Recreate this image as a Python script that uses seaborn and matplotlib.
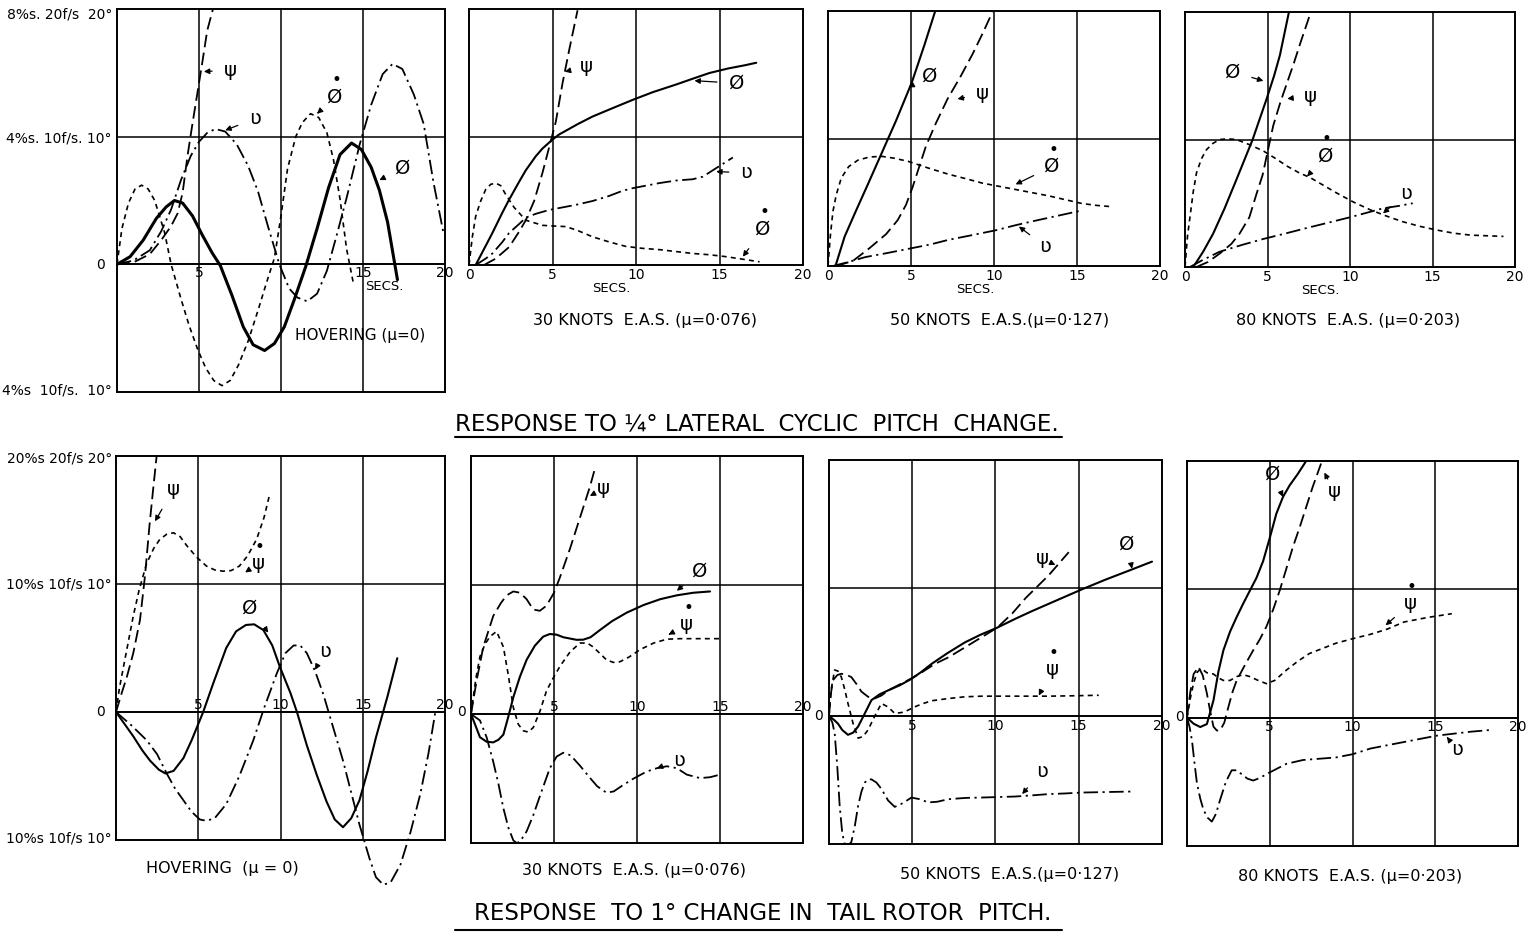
import seaborn as sns
import matplotlib.pyplot as plt
from matplotlib.lines import Line2D

sns.set_style('white')
plt.rcParams['font.family'] = ['DejaVu Sans']
plt.rcParams['text.color'] = 'black'

W, H = 1528, 936

# ---------------- lateral cyclic pitch: hovering ----------------
a1_phi_t = [0, 0.8, 1.6, 2.4, 3.0, 3.5, 4.0, 4.6, 5.2, 5.8, 6.3, 7.0, 7.7, 8.3, 9.0, 9.6, 10.2, 10.8, 11.5,
            12.2, 12.9, 13.6, 14.3, 14.9, 15.5, 16.0, 16.5, 17.1]
a1_phi_y = [0, 0.6, 1.9, 3.6, 4.5, 5.0, 4.8, 3.8, 2.3, 0.9, -0.1, -2.4, -4.9, -6.3, -6.75, -6.2, -4.9, -2.8,
            -0.2, 2.8, 6.0, 8.6, 9.5, 9.0, 7.6, 5.8, 3.3, -1.2]
a1_psi_t = [0, 1.0, 2.0, 2.7, 3.3, 3.7, 4.0, 4.3, 4.6, 4.9, 5.2, 5.5, 5.85]
a1_psi_y = [0, 0.15, 0.8, 1.9, 3.0, 4.0, 5.6, 8.5, 11.0, 13.4, 15.8, 18.3, 20.0]
a1_dot_t = [0, 0.3, 0.7, 1.1, 1.5, 1.9, 2.3, 2.9, 3.3, 3.9, 4.4, 4.9, 5.4, 5.9, 6.4, 6.9, 7.4, 8.0, 8.6, 9.1,
            9.6, 10.0, 10.4, 10.9, 11.3, 11.8, 12.3, 12.8, 13.2, 13.6, 14.0, 14.4]
a1_dot_y = [0, 2.8, 4.8, 5.9, 6.2, 5.9, 5.0, 2.5, 0, -2.7, -4.8, -6.6, -8.1, -9.1, -9.5, -9.1, -7.9, -6.0,
            -3.6, -1.5, 0.5, 3.8, 7.5, 10.0, 11.1, 11.8, 11.5, 10.3, 8.2, 5.1, 1.2, -1.4]
a1_v_t = [0, 1, 2, 2.7, 3.3, 3.9, 4.5, 5.0, 5.5, 6.0, 6.6, 7.3, 8.0, 8.6, 9.2, 9.9, 10.5, 11.0, 11.6, 12.2,
          12.8, 13.4, 14.0, 14.8, 15.5, 16.2, 16.8, 17.4, 18.1, 18.7, 19.3, 19.9]
a1_v_y = [0, 0.3, 1.1, 2.6, 4.3, 6.6, 8.5, 9.6, 10.3, 10.6, 10.4, 9.4, 7.7, 5.7, 3.0, 0, -1.9, -2.6, -2.9,
          -2.3, -0.5, 2.3, 5.2, 9.4, 12.5, 14.9, 15.7, 15.3, 13.3, 11.0, 6.4, 2.5]

# ---------------- lateral cyclic pitch: 30 knots ----------------
a2_phi_t = [0.4, 1.0, 1.4, 2.0, 2.4, 3.0, 3.4, 4.0, 4.4, 5.0, 5.4, 6.5, 7.4, 8.5, 9.8, 11.0, 12.4, 13.5,
            14.4, 15.5, 16.5, 17.2]
a2_phi_y = [0, 1.5, 2.5, 4.1, 5.1, 6.5, 7.4, 8.5, 9.1, 9.8, 10.2, 11.0, 11.6, 12.2, 12.9, 13.5, 14.1, 14.6,
            15.0, 15.35, 15.6, 15.8]
a2_psi_t = [0.9, 1.6, 2.4, 3.0, 3.4, 3.9, 4.4, 4.8, 5.2, 5.6, 6.0, 6.5]
a2_psi_y = [0, 0.5, 1.4, 2.6, 3.5, 5.0, 7.2, 9.2, 11.2, 14.2, 16.8, 19.9]
a2_dot_t = [0, 0.2, 0.4, 0.7, 1.0, 1.3, 1.6, 1.9, 2.2, 2.7, 3.4, 4.4, 5.0, 5.8, 6.5, 7.4, 8.4, 9.4, 10.4,
            11.4, 12.4, 13.4, 14.4, 15.4, 16.4, 17.4]
a2_dot_y = [0, 2.2, 3.8, 5.0, 5.9, 6.3, 6.4, 6.2, 5.5, 4.5, 3.5, 3.1, 3.05, 3.0, 2.7, 2.2, 1.8, 1.45, 1.3,
            1.2, 1.05, 0.9, 0.8, 0.65, 0.45, 0.25]
a2_v_t = [0.4, 1.0, 1.4, 2.0, 2.4, 3.0, 3.4, 4.0, 4.8, 5.6, 6.4, 7.4, 8.4, 9.2, 9.8, 10.6, 11.4, 12.4, 13.4,
          14.0, 14.6, 15.2, 15.8]
a2_v_y = [0, 0.5, 0.9, 1.8, 2.5, 3.2, 3.7, 4.0, 4.3, 4.5, 4.7, 5.0, 5.4, 5.8, 6.0, 6.2, 6.4, 6.6, 6.7, 6.9,
          7.4, 7.9, 8.4]

# ---------------- lateral cyclic pitch: 50 knots ----------------
a3_phi_t = [0.45, 1.0, 1.64, 2.4, 3.25, 4.1, 5.05, 5.8, 6.46]
a3_phi_y = [0, 2.3, 4.2, 6.4, 8.9, 11.4, 14.4, 17.3, 20.0]
a3_psi_t = [0.5, 1.5, 2.5, 3.5, 4.2, 4.7, 5.1, 5.5, 5.9, 6.5, 7.2, 8.0, 8.7, 9.3, 9.9]
a3_psi_y = [0, 0.4, 1.4, 2.5, 3.6, 4.8, 6.2, 7.8, 9.4, 11.2, 13.1, 14.9, 16.6, 18.2, 19.9]
a3_dot_t = [0, 0.15, 0.3, 0.5, 0.8, 1.25, 1.8, 2.5, 3.25, 4.0, 4.85, 6.0, 7.25, 8.3, 9.3, 10.3, 11.3, 12.3,
            13.3, 14.3, 15.3, 16.2, 17.1]
a3_dot_y = [0, 2.5, 4.3, 5.6, 6.9, 7.8, 8.3, 8.55, 8.6, 8.45, 8.2, 7.7, 7.2, 6.85, 6.5, 6.25, 6.0, 5.75,
            5.5, 5.2, 4.9, 4.75, 4.65]
a3_v_t = [0.3, 1.2, 2.25, 3.5, 5.05, 6.2, 7.25, 8.6, 10.1, 11.3, 12.3, 13.7, 15.1]
a3_v_y = [0, 0.3, 0.7, 1.0, 1.4, 1.7, 2.05, 2.4, 2.8, 3.2, 3.5, 3.9, 4.3]

# ---------------- lateral cyclic pitch: 80 knots ----------------
a4_phi_t = [0.5, 1.1, 1.7, 2.4, 3.1, 3.6, 4.1, 4.95, 5.4, 5.75, 6.3]
a4_phi_y = [0, 1.2, 2.6, 4.6, 6.8, 8.4, 10.0, 13.2, 15.0, 16.6, 20.0]
a4_psi_t = [0.7, 1.4, 2.1, 2.8, 3.3, 3.9, 4.35, 4.7, 4.95, 5.35, 5.8, 6.2, 6.6, 7.0, 7.6]
a4_psi_y = [0, 0.4, 1.05, 1.8, 2.6, 3.9, 5.8, 7.2, 8.7, 11.1, 13.0, 14.5, 16.0, 17.6, 19.9]
a4_dot_t = [0, 0.15, 0.3, 0.5, 0.7, 1.0, 1.3, 1.7, 2.1, 2.6, 3.1, 3.9, 4.75, 5.5, 6.2, 6.9, 7.6, 8.4, 9.2,
            10.2, 11.2, 12.2, 13.2, 14.2, 15.25, 16.3, 17.3, 18.3, 19.3]
a4_dot_y = [0, 2.4, 3.9, 5.9, 7.4, 8.5, 9.2, 9.7, 10.0, 10.05, 10.0, 9.6, 9.1, 8.5, 7.9, 7.4, 7.0, 6.4, 5.8,
            5.1, 4.5, 4.0, 3.55, 3.2, 2.9, 2.65, 2.5, 2.45, 2.4]
a4_v_t = [0.3, 1.0, 2.1, 3.5, 4.75, 6.0, 7.2, 8.6, 10.0, 11.0, 12.0, 13.0, 13.8]
a4_v_y = [0, 0.5, 1.2, 1.75, 2.2, 2.6, 3.0, 3.45, 3.9, 4.25, 4.6, 4.8, 5.0]

# ---------------- tail rotor pitch: hovering ----------------
b1_phi_t = [0, 0.5, 1.05, 1.6, 2.07, 2.6, 3.0, 3.5, 4.1, 4.6, 5.3, 5.9, 6.3, 6.7, 7.3, 7.9, 8.4, 8.96, 9.5,
            9.97, 10.6, 11.0, 11.6, 12.2, 12.8, 13.3, 13.8, 14.3, 14.8, 15.3, 15.8, 16.5, 17.1]
b1_phi_y = [0, -0.9, -1.9, -3.0, -3.8, -4.5, -4.8, -4.6, -3.6, -2.2, 0, 2.2, 3.6, 5.0, 6.3, 6.8, 6.85, 6.4,
            5.2, 3.5, 1.5, 0, -2.6, -4.9, -7.0, -8.4, -9.0, -8.3, -6.9, -4.6, -2.0, 1.2, 4.2]
b1_psi_t = [0, 0.35, 0.65, 1.05, 1.46, 1.76, 2.03, 2.25, 2.47]
b1_psi_y = [0, 1.5, 2.7, 4.6, 7.2, 10.6, 14.5, 17.3, 20.0]
b1_dot_t = [0, 0.2, 0.45, 0.75, 1.05, 1.4, 1.86, 2.3, 2.67, 3.1, 3.5, 3.9, 4.3, 4.9, 5.5, 6.0, 6.5, 7.0,
            7.5, 8.0, 8.55, 9.0, 9.36]
b1_dot_y = [0, 1.8, 3.5, 5.5, 7.5, 9.5, 11.6, 12.8, 13.5, 13.9, 14.0, 13.7, 13.0, 12.1, 11.4, 11.1, 11.0,
            11.05, 11.4, 12.2, 13.5, 15.2, 17.1]
b1_v_t = [0, 0.9, 1.86, 2.5, 3.08, 3.6, 4.1, 4.6, 5.1, 5.5, 6.0, 6.7, 7.5, 8.35, 9.0, 9.77, 10.3, 10.8,
          11.2, 11.6, 12.1, 12.6, 13.2, 13.8, 14.3, 14.8, 15.4, 15.8, 16.25, 16.7, 17.3, 17.9, 18.5, 19.0, 19.4]
b1_v_y = [0, -1.0, -2.2, -3.3, -4.8, -6.0, -6.9, -7.8, -8.4, -8.5, -8.3, -7.2, -5.0, -2.2, 0.3, 3.0, 4.6,
          5.2, 5.2, 4.6, 3.2, 1.4, -1.2, -3.8, -6.3, -8.8, -11.4, -12.9, -13.5, -13.3, -11.9, -9.4, -6.4,
          -3.2, -0.1]

# ---------------- tail rotor pitch: 30 knots ----------------
b2_phi_t = [0, 0.3, 0.54, 0.94, 1.34, 1.65, 1.95, 2.25, 2.55, 2.95, 3.35, 3.85, 4.35, 4.75, 5.16, 5.56,
            5.96, 6.36, 6.76, 7.2, 7.76, 8.5, 9.37, 10.4, 11.4, 12.4, 13.4, 14.4]
b2_phi_y = [0, -1.0, -1.8, -2.15, -2.2, -2.0, -1.6, -0.2, 1.3, 2.9, 4.2, 5.3, 6.0, 6.2, 6.15, 5.95, 5.85,
            5.75, 5.76, 5.95, 6.5, 7.2, 7.85, 8.45, 8.9, 9.2, 9.4, 9.5]
b2_psi_t = [0, 0.34, 0.74, 1.34, 1.8, 2.15, 2.55, 2.95, 3.35, 3.75, 4.15, 4.55, 5.0, 5.36, 5.96, 6.56,
            7.16, 7.46]
b2_psi_y = [0, 2.6, 5.2, 7.6, 8.6, 9.2, 9.5, 9.4, 8.9, 8.1, 8.0, 8.4, 9.4, 10.6, 12.8, 15.2, 17.6, 19.0]
b2_dot_t = [0, 0.3, 0.54, 0.84, 1.14, 1.54, 1.95, 2.25, 2.55, 2.85, 3.15, 3.45, 3.75, 4.15, 4.55, 5.0,
            5.36, 5.96, 6.56, 7.0, 7.36, 7.76, 8.16, 8.57, 8.97, 9.5, 10.2, 11.0, 11.8, 12.6, 13.4, 14.2, 15.0]
b2_dot_y = [0, 2.8, 4.45, 5.4, 6.0, 6.4, 5.2, 3.0, 0.5, -0.8, -1.3, -1.4, -1.05, 0.2, 1.8, 2.9, 3.7, 4.8,
            5.5, 5.5, 5.2, 4.7, 4.2, 4.0, 4.05, 4.4, 5.0, 5.5, 5.8, 5.84, 5.84, 5.84, 5.84]
b2_v_t = [0, 0.54, 0.94, 1.34, 1.65, 1.95, 2.25, 2.55, 2.75, 2.95, 3.35, 3.75, 4.25, 4.75, 5.16, 5.56,
          6.0, 6.56, 7.2, 7.6, 8.16, 8.6, 9.17, 9.8, 10.6, 11.2, 11.8, 12.4, 13.0, 13.8, 14.4, 15.0]
b2_v_y = [0, -0.5, -1.8, -3.7, -5.4, -7.3, -8.8, -9.8, -10.0, -9.9, -9.1, -7.85, -6.0, -4.2, -3.3, -3.0,
          -3.2, -4.0, -5.0, -5.6, -6.1, -6.0, -5.5, -5.0, -4.45, -4.2, -4.05, -4.2, -4.7, -4.97, -4.9, -4.7]

# ---------------- tail rotor pitch: 50 knots ----------------
b3_phi_t = [0, 0.3, 0.54, 0.8, 1.14, 1.45, 1.75, 2.15, 2.55, 3.05, 3.55, 4.25, 4.95, 5.5, 6.16, 7.1, 8.16,
            9.1, 10.1, 11.2, 12.2, 13.7, 15.2, 16.6, 18.0, 19.4]
b3_phi_y = [0, -0.3, -0.6, -1.1, -1.47, -1.3, -0.82, 0.2, 1.24, 1.7, 2.0, 2.4, 2.9, 3.4, 4.07, 4.9, 5.75,
            6.35, 6.9, 7.6, 8.2, 9.05, 9.9, 10.65, 11.35, 12.06]
b3_psi_t = [0, 0.12, 0.24, 0.5, 0.74, 1.0, 1.34, 1.65, 1.95, 2.35, 2.75, 3.15, 3.55, 4.15, 4.75, 5.5, 6.36,
            7.2, 8.16, 9.1, 10.1, 11.0, 11.8, 12.5, 13.2, 13.8, 14.4]
b3_psi_y = [0, 1.8, 2.8, 3.2, 3.3, 3.25, 3.04, 2.5, 1.9, 1.5, 1.37, 1.6, 2.0, 2.4, 2.8, 3.35, 4.07, 4.6,
            5.36, 6.1, 6.9, 8.0, 9.2, 10.1, 11.0, 11.9, 12.8]
b3_dot_t = [0, 0.12, 0.34, 0.55, 0.74, 0.94, 1.14, 1.45, 1.75, 2.05, 2.35, 2.75, 3.15, 3.55, 3.95, 4.5,
            5.16, 5.6, 6.16, 7.2, 8.16, 9.2, 10.2, 11.7, 13.2, 14.7, 16.2]
b3_dot_y = [0, 2.0, 3.6, 3.5, 3.04, 2.1, 0.98, -0.6, -1.73, -1.6, -1.08, 0.0, 0.98, 0.7, 0.2, 0.3, 0.72,
            0.95, 1.19, 1.37, 1.5, 1.55, 1.55, 1.55, 1.55, 1.58, 1.62]
b3_v_t = [0, 0.2, 0.34, 0.5, 0.64, 0.8, 0.94, 1.14, 1.34, 1.55, 1.75, 1.95, 2.15, 2.35, 2.55, 2.85, 3.15,
          3.55, 3.95, 4.45, 4.95, 5.45, 5.96, 6.5, 7.16, 8.2, 9.17, 10.2, 11.2, 12.2, 13.2, 14.2, 15.2,
          16.7, 18.2]
b3_v_y = [0, -0.5, -1.34, -4.0, -7.0, -9.2, -9.97, -10.1, -9.85, -8.6, -7.0, -5.9, -5.2, -4.95, -4.95,
          -5.2, -5.7, -6.6, -7.1, -6.8, -6.37, -6.5, -6.75, -6.7, -6.5, -6.4, -6.37, -6.33, -6.29, -6.2,
          -6.1, -6.05, -5.98, -5.94, -5.9]

# ---------------- tail rotor pitch: 80 knots ----------------
b4_phi_t = [0, 0.4, 0.8, 1.2, 1.6, 1.9, 2.2, 2.6, 3.0, 3.4, 3.8, 4.2, 4.6, 5.0, 5.4, 5.8, 6.2, 6.7, 7.2]
b4_phi_y = [0, -0.47, -0.73, -0.5, 1.35, 3.6, 5.25, 6.7, 7.84, 8.9, 9.9, 10.9, 12.2, 14.0, 15.9, 17.2,
            18.1, 19.0, 20.0]
b4_psi_t = [0, 0.2, 0.4, 0.7, 0.95, 1.2, 1.4, 1.6, 1.8, 2.0, 2.25, 2.5, 2.75, 3.0, 3.5, 4.0, 4.4, 4.8, 5.2,
            5.6, 6.0, 6.4, 6.8, 7.2, 7.6, 8.1]
b4_psi_y = [0, 2.0, 3.4, 3.95, 3.3, 1.9, 0.5, -0.7, -1.0, -1.0, -0.4, 0.83, 2.0, 2.9, 4.1, 5.25, 6.1, 7.1,
            8.4, 9.9, 11.6, 13.3, 14.8, 16.4, 18.0, 19.8]
b4_dot_t = [0, 0.2, 0.4, 0.6, 0.8, 1.0, 1.2, 1.6, 1.9, 2.2, 2.6, 3.0, 3.4, 3.8, 4.3, 4.8, 5.3, 6.0, 6.7,
            7.4, 8.2, 9.0, 10.0, 11.1, 12.1, 13.1, 14.5, 16.0]
b4_dot_y = [0, 1.5, 2.7, 3.5, 3.8, 3.7, 3.5, 3.4, 3.1, 2.9, 2.9, 3.2, 3.35, 3.2, 2.9, 2.65, 2.9, 3.7, 4.4,
            5.0, 5.4, 5.8, 6.15, 6.5, 6.9, 7.45, 7.8, 8.1]
b4_v_t = [0, 0.15, 0.3, 0.45, 0.6, 0.8, 1.0, 1.25, 1.5, 1.75, 2.0, 2.35, 2.7, 3.0, 3.3, 3.65, 4.0, 4.4,
          4.8, 5.4, 6.0, 7.0, 8.0, 9.0, 10.0, 11.1, 12.1, 13.1, 14.1, 15.1, 16.1, 17.1, 18.5]
b4_v_y = [0, -0.7, -1.77, -3.5, -5.1, -6.3, -7.2, -7.8, -8.1, -7.5, -6.4, -5.0, -4.1, -4.1, -4.4, -4.75,
          -4.9, -4.7, -4.4, -4.0, -3.6, -3.3, -3.2, -3.1, -2.85, -2.4, -2.15, -1.9, -1.65, -1.4, -1.25,
          -1.1, -0.94]

PHI = 'Ø'
PSI = 'ψ'
V = 'ʋ'

styles = {
    'phi': dict(lw=1.5, linestyle='-'),
    'psi': dict(lw=1.3, linestyle=(0, (7, 3))),
    'dot': dict(lw=1.2, linestyle=(0, (3, 2.5))),
    'v': dict(lw=1.3, linestyle=(0, (8, 2.5, 1.2, 2.5))),
}


def px(x, y):
    return x / W, 1 - y / H


def make_ax(l, r, t, b, ylo, yhi, zero_line):
    ax = fig.add_axes([l / W, 1 - b / H, (r - l) / W, (b - t) / H])
    ax.set_xlim(0, 20)
    ax.set_ylim(ylo, yhi)
    ax.set_xticks([])
    ax.set_yticks([])
    for s in ax.spines.values():
        s.set_linewidth(1.4)
        s.set_color('black')
    for gx in (5, 10, 15):
        ax.axvline(gx, color='black', lw=1.1, zorder=1)
    ax.axhline(10, color='black', lw=1.1, zorder=1)
    if zero_line:
        ax.axhline(0, color='black', lw=1.4, zorder=1)
    return ax


def curve(ax, t, y, kind, lw=None, clip=True):
    kw = dict(styles[kind])
    if lw is not None:
        kw['lw'] = lw
    sns.lineplot(x=t, y=y, ax=ax, color='black', sort=False, estimator=None,
                 clip_on=clip, **kw)


def label(ax, text, tip, pos, dot=False, size=14):
    ax.annotate(text, xy=tip, xytext=pos, ha='center', va='center', fontsize=size,
                annotation_clip=False,
                arrowprops=dict(arrowstyle='-|>', color='black', lw=0.9,
                                mutation_scale=8, shrinkA=6, shrinkB=0))
    if dot:
        ax.annotate('•', xy=pos, xytext=(1, 12), textcoords='offset points',
                    ha='center', va='center', fontsize=12, annotation_clip=False)


def xnums(ax, nums, dy):
    for n in nums:
        ax.annotate(str(n), xy=(n, 0), xytext=(0, dy), textcoords='offset points',
                    ha='center', va='center', fontsize=10, annotation_clip=False)


fig = plt.figure(figsize=(W / 100, H / 100), dpi=100)
fig.patch.set_facecolor('white')

# ---------- top row ----------
ax = make_ax(117, 445, 9, 392, -10, 20, True)
curve(ax, a1_phi_t, a1_phi_y, 'phi', lw=2.2)
curve(ax, a1_psi_t, a1_psi_y, 'psi')
curve(ax, a1_dot_t, a1_dot_y, 'dot')
curve(ax, a1_v_t, a1_v_y, 'v')
label(ax, PSI, (5.3, 15.1), (6.9, 15.2))
label(ax, V, (6.6, 10.5), (8.4, 11.4))
label(ax, PHI, (12.2, 11.8), (13.3, 13.1), dot=True)
label(ax, PHI, (16.0, 6.6), (17.4, 7.5))
xnums(ax, [5, 15, 20], -6)
ax.annotate('SECS.', xy=(16.3, 0), xytext=(0, -16), textcoords='offset points',
            ha='center', va='center', fontsize=9.5)
ax.text(14.8, -5.6, 'HOVERING (μ=0)', ha='center', va='center', fontsize=11)

ax = make_ax(469, 803, 9, 265, 0, 20, False)
curve(ax, a2_phi_t, a2_phi_y, 'phi')
curve(ax, a2_psi_t, a2_psi_y, 'psi')
curve(ax, a2_dot_t, a2_dot_y, 'dot')
curve(ax, a2_v_t, a2_v_y, 'v')
label(ax, PSI, (5.74, 15.1), (7.0, 15.5))
label(ax, PHI, (13.5, 14.4), (16.0, 14.2))
label(ax, V, (14.8, 7.3), (16.6, 7.2))
label(ax, PHI, (16.4, 0.65), (17.6, 2.8), dot=True)
xnums(ax, [0, 5, 10, 15, 20], -7)
ax.annotate('SECS.', xy=(8.5, 0), xytext=(0, -17), textcoords='offset points',
            ha='center', va='center', fontsize=9.5)

ax = make_ax(828, 1160, 11, 266, 0, 20, False)
curve(ax, a3_phi_t, a3_phi_y, 'phi')
curve(ax, a3_psi_t, a3_psi_y, 'psi')
curve(ax, a3_dot_t, a3_dot_y, 'dot')
curve(ax, a3_v_t, a3_v_y, 'v')
label(ax, PHI, (4.85, 14.0), (6.1, 14.9))
label(ax, PSI, (7.8, 13.1), (9.3, 13.5))
label(ax, PHI, (11.3, 6.4), (13.5, 7.8), dot=True)
label(ax, V, (11.5, 3.1), (13.1, 1.5))
xnums(ax, [0, 5, 10, 15, 20], -7)
ax.annotate('SECS.', xy=(8.9, 0), xytext=(0, -17), textcoords='offset points',
            ha='center', va='center', fontsize=9.5)

ax = make_ax(1185, 1515, 12, 267, 0, 20, False)
curve(ax, a4_phi_t, a4_phi_y, 'phi')
curve(ax, a4_psi_t, a4_psi_y, 'psi')
curve(ax, a4_dot_t, a4_dot_y, 'dot')
curve(ax, a4_v_t, a4_v_y, 'v')
label(ax, PHI, (4.75, 14.6), (2.9, 15.3))
label(ax, PSI, (6.2, 13.2), (7.6, 13.4))
label(ax, PHI, (7.4, 7.1), (8.5, 8.7), dot=True)
label(ax, V, (12.0, 4.2), (13.4, 5.8))
xnums(ax, [0, 5, 10, 15, 20], -7)
ax.annotate('SECS.', xy=(8.2, 0), xytext=(0, -17), textcoords='offset points',
            ha='center', va='center', fontsize=9.5)

# ---------- bottom row ----------
ax = make_ax(116, 445, 456, 840, -10, 20, True)
curve(ax, b1_phi_t, b1_phi_y, 'phi')
curve(ax, b1_psi_t, b1_psi_y, 'psi')
curve(ax, b1_dot_t, b1_dot_y, 'dot')
curve(ax, b1_v_t, b1_v_y, 'v', clip=False)
label(ax, PSI, (2.37, 14.9), (3.5, 17.4))
label(ax, PSI, (7.85, 10.9), (8.65, 11.6), dot=True)
label(ax, PHI, (9.26, 6.2), (8.15, 8.1))
label(ax, V, (12.1, 3.3), (12.7, 4.7))
xnums(ax, [5, 10, 15, 20], 5)

ax = make_ax(471, 803, 456, 843, -10, 20, True)
curve(ax, b2_phi_t, b2_phi_y, 'phi')
curve(ax, b2_psi_t, b2_psi_y, 'psi')
curve(ax, b2_dot_t, b2_dot_y, 'dot')
curve(ax, b2_v_t, b2_v_y, 'v')
label(ax, PSI, (7.16, 16.9), (8.0, 17.5))
label(ax, PHI, (12.4, 9.55), (13.8, 11.1))
label(ax, PSI, (11.9, 6.15), (13.0, 6.9), dot=True)
label(ax, V, (11.2, -4.2), (12.5, -3.6))
xnums(ax, [5, 10, 15, 20], 5)

ax = make_ax(829, 1162, 460, 844, -10, 20, True)
curve(ax, b3_phi_t, b3_phi_y, 'phi')
curve(ax, b3_psi_t, b3_psi_y, 'psi')
curve(ax, b3_dot_t, b3_dot_y, 'dot')
curve(ax, b3_v_t, b3_v_y, 'v')
label(ax, PSI, (13.6, 11.8), (12.8, 12.3))
label(ax, PHI, (18.2, 11.5), (17.9, 13.4))
label(ax, PSI, (12.6, 1.6), (13.4, 3.6), dot=True)
label(ax, V, (11.6, -6.1), (12.8, -4.3))
xnums(ax, [5, 10, 15, 20], -7)

ax = make_ax(1187, 1518, 461, 846, -10, 20, True)
curve(ax, b4_phi_t, b4_phi_y, 'phi')
curve(ax, b4_psi_t, b4_psi_y, 'psi')
curve(ax, b4_dot_t, b4_dot_y, 'dot')
curve(ax, b4_v_t, b4_v_y, 'v')
label(ax, PHI, (5.8, 17.2), (5.2, 19.0))
label(ax, PSI, (8.3, 19.1), (8.9, 17.6))
label(ax, PSI, (12.0, 7.2), (13.5, 8.9), dot=True)
label(ax, V, (15.7, -1.5), (16.3, -2.5))
xnums(ax, [5, 10, 15, 20], -7)

# ---------- axis value labels ----------
ylabels = [
    (112, 14, '8%s. 20f/s  20°'),
    (112, 138, '4%s. 10f/s. 10°'),
    (105, 265, '0'),
    (112, 390, '4%s  10f/s.  10°'),
    (112, 458, '20%s 20f/s 20°'),
    (112, 584, '10%s 10f/s 10°'),
    (105, 712, '0'),
    (112, 838, '10%s 10f/s 10°'),
]
for x, y, s in ylabels:
    fig.text(*px(x, y), s, ha='right', va='center', fontsize=10)

for x, y in [(462, 712), (818, 716), (1180, 717)]:
    fig.text(*px(x, y), '0', ha='center', va='center', fontsize=10)

subtitles = [
    (645, 320, '30 KNOTS  E.A.S. (μ=0·076)'),
    (1000, 320, '50 KNOTS  E.A.S.(μ=0·127)'),
    (1348, 321, '80 KNOTS  E.A.S. (μ=0·203)'),
    (222, 868, 'HOVERING  (μ = 0)'),
    (634, 870, '30 KNOTS  E.A.S. (μ=0·076)'),
    (1010, 874, '50 KNOTS  E.A.S.(μ=0·127)'),
    (1350, 877, '80 KNOTS  E.A.S. (μ=0·203)'),
]
for x, y, s in subtitles:
    fig.text(*px(x, y), s, ha='center', va='center', fontsize=11.5)

# ---------- main titles ----------
fig.text(*px(757, 424), 'RESPONSE TO ¼° LATERAL  CYCLIC  PITCH  CHANGE.',
         ha='center', va='center', fontsize=16.5)
fig.add_artist(Line2D([455 / W, 1062 / W], [1 - 437 / H] * 2, color='black', lw=1.5))
fig.text(*px(763, 914), 'RESPONSE  TO 1° CHANGE IN  TAIL ROTOR  PITCH.',
         ha='center', va='center', fontsize=16.5)
fig.add_artist(Line2D([455 / W, 1062 / W], [1 - 930 / H] * 2, color='black', lw=1.5))

fig.savefig('out.png', dpi=100, facecolor='white')
